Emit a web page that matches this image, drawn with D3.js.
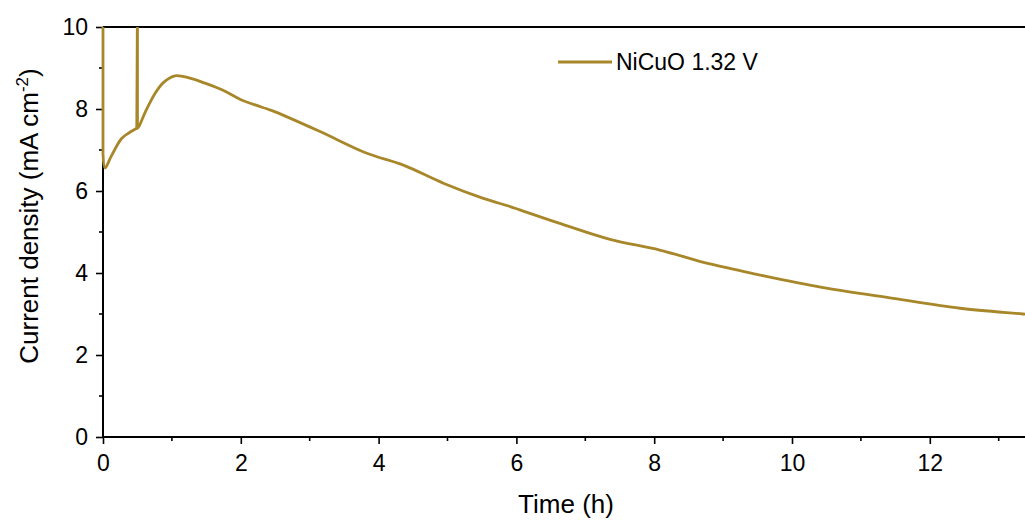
<!DOCTYPE html>
<html>
<head>
<meta charset="utf-8">
<script src="https://cdn.jsdelivr.net/npm/d3@7"></script>
<style>
  html, body { margin: 0; padding: 0; background: #fff; }
  svg { display: block; font-family: "Liberation Sans", Arial, sans-serif; }
</style>
</head>
<body>
<svg id="chart" width="1025" height="520"></svg>
<script>
// Chronoamperometry trace: time (h) vs current density (mA cm^-2)
const timeH = [0, 0, 0.03, 0.12, 0.27, 0.38, 0.49, 0.50, 0.50, 0.52, 0.62, 0.755, 0.88, 1.045, 1.25, 1.48, 1.75, 2.01, 2.42, 2.5, 3.15, 3.83, 4.36, 4.94, 5.52, 5.91, 6.05, 6.63, 7.36, 8.08, 8.81, 9.54, 9.68, 10.5, 11.47, 12.44, 13.35, 13.6];
const current = [10.6, 6.9, 6.56, 6.85, 7.28, 7.42, 7.53, 10.6, 7.53, 7.57, 7.95, 8.38, 8.65, 8.81, 8.76, 8.63, 8.45, 8.22, 7.98, 7.93, 7.45, 6.92, 6.63, 6.19, 5.82, 5.62, 5.54, 5.21, 4.82, 4.56, 4.22, 3.95, 3.90, 3.63, 3.38, 3.14, 3.00, 2.96];
const xTicks = [0, 2, 4, 6, 8, 10, 12];
const yTicks = [0, 2, 4, 6, 8, 10];
const xMinor = [1, 3, 5, 7, 9, 11, 13];
const yMinor = [1, 3, 5, 7, 9];
const seriesName = "NiCuO 1.32 V";
const lineColor = "#a8872a";

const svg = d3.select("#chart");
const plotLeft = 103, plotTop = 27, plotBottom = 437, plotRight = 1025;
const x = d3.scaleLinear().domain([0, 14]).range([plotLeft, plotLeft + 14 * 68.9]);
const y = d3.scaleLinear().domain([0, 10]).range([plotBottom, plotTop]);

svg.append("defs").append("clipPath").attr("id", "plotClip")
  .append("rect").attr("x", plotLeft - 3).attr("y", plotTop)
  .attr("width", plotRight - plotLeft + 3).attr("height", plotBottom - plotTop);

// top frame line
svg.append("line").attr("x1", plotLeft).attr("x2", plotRight).attr("y1", plotTop).attr("y2", plotTop)
  .attr("stroke", "#000").attr("stroke-width", 2);

// x axis
const xAxis = svg.append("g").attr("transform", `translate(0,${plotBottom})`)
  .call(d3.axisBottom(x).tickValues(xTicks).tickSize(7).tickPadding(11).tickFormat(d3.format("d")));
xAxis.append("g").selectAll("line").data(xMinor).join("line")
  .attr("x1", d => x(d)).attr("x2", d => x(d)).attr("y1", 0).attr("y2", 4)
  .attr("stroke", "#000").attr("stroke-width", 1.6);

// y axis
const yAxis = svg.append("g").attr("transform", `translate(${plotLeft},0)`)
  .call(d3.axisLeft(y).tickValues(yTicks).tickSize(7).tickPadding(8).tickFormat(d3.format("d")));
yAxis.append("g").selectAll("line").data(yMinor).join("line")
  .attr("x1", 0).attr("x2", -4).attr("y1", d => y(d)).attr("y2", d => y(d))
  .attr("stroke", "#000").attr("stroke-width", 1.6);

[xAxis, yAxis].forEach(g => {
  g.select(".domain").attr("stroke", "#000").attr("stroke-width", 2);
  g.selectAll(".tick line").attr("stroke", "#000").attr("stroke-width", 1.6);
  g.selectAll(".tick text").attr("fill", "#000").attr("font-size", 23)
    .attr("font-family", "'Liberation Sans', Arial, sans-serif");
});
xAxis.select(".domain").attr("d", `M${plotLeft},0H${plotRight}`);
yAxis.select(".domain").attr("d", `M0,${plotTop}V${plotBottom}`);

// data line, drawn above the axes; current spikes (steps of ~zero time) stay straight,
// the rest of the trace is smoothed
const pts = timeH.map((t, i) => [t, current[i]]);
const smoothLine = d3.line().x(d => x(d[0])).y(d => y(d[1])).curve(d3.curveCatmullRom.alpha(0.5));
const straightLine = d3.line().x(d => x(d[0])).y(d => y(d[1]));
const runs = [];
for (let i = 0; i < pts.length - 1; i++) {
  const jump = timeH[i + 1] - timeH[i] <= 0.011;
  const last = runs[runs.length - 1];
  if (last && last.jump === jump) last.pts.push(pts[i + 1]);
  else runs.push({ jump, pts: [pts[i], pts[i + 1]] });
}
svg.append("path")
  .attr("clip-path", "url(#plotClip)")
  .attr("d", runs.map(r => (r.jump ? straightLine : smoothLine)(r.pts)).join(""))
  .attr("fill", "none")
  .attr("stroke", lineColor)
  .attr("stroke-width", 2.8)
  .attr("stroke-linejoin", "round")
  .attr("stroke-linecap", "round");

// axis titles
svg.append("text").attr("x", 566).attr("y", 513).attr("text-anchor", "middle")
  .attr("font-size", 26).attr("fill", "#000").text("Time (h)");

const yt = svg.append("text").attr("transform", "translate(38,216) rotate(-90)")
  .attr("text-anchor", "middle").attr("font-size", 26).attr("fill", "#000");
yt.append("tspan").text("Current density (mA cm");
yt.append("tspan").attr("dy", -10).attr("font-size", 17).text("-2");
yt.append("tspan").attr("dy", 10).text(")");

// legend
svg.append("line").attr("x1", 558).attr("x2", 612).attr("y1", 62).attr("y2", 62)
  .attr("stroke", lineColor).attr("stroke-width", 2.8);
svg.append("text").attr("x", 616).attr("y", 70).attr("font-size", 23).attr("fill", "#000").text(seriesName);
</script>
</body>
</html>
